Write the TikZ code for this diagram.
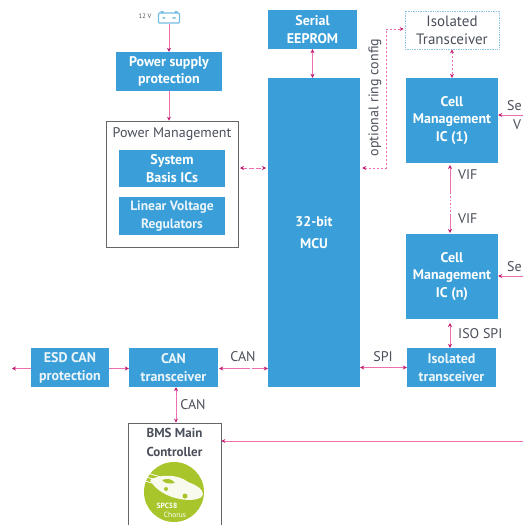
\documentclass[tikz,border=0pt]{standalone}
\usepackage{fontspec}
\setmainfont{PT Sans}
\usetikzlibrary{arrows.meta,calc}
\definecolor{bbox}{HTML}{3A9FD8}
\definecolor{pinkl}{HTML}{EE6FB0}
\definecolor{pinkd}{HTML}{C2186E}
\definecolor{greenl}{HTML}{A8C62C}
\definecolor{gtxt}{HTML}{4A4F5A}
\tikzset{
  x=1pt,y=-1pt,
  bluebox/.style={fill=bbox,text=white,font=\bfseries\fontsize{14}{17.5}\selectfont,align=center,inner sep=0pt,anchor=center},
  ltbox/.style={fill=bbox,text=white!90!bbox,font=\fontsize{14}{18}\selectfont\bfseries,align=center,inner sep=0pt,anchor=center},
  framebox/.style={draw=black!60,line width=0.6pt,fill=white,inner sep=0pt,anchor=center},
  dotbox/.style={draw=bbox!60,densely dotted,line width=0.7pt,fill=white,text=gtxt,font=\fontsize{15}{18}\selectfont,align=center,inner sep=0pt,anchor=center},
  lbl/.style={text=gtxt,font=\fontsize{14}{16}\selectfont,inner sep=0pt},
  conn/.style={draw=pinkl,line width=0.9pt},
  both/.style={conn,{Stealth[length=4pt,width=4pt,color=pinkd]}-{Stealth[length=4pt,width=4pt,color=pinkd]}},
  one/.style={conn,-{Stealth[length=4pt,width=4pt,color=pinkd]}},
  dconn/.style={densely dashed}
}
\begin{document}
\begin{tikzpicture}
\useasboundingbox (0,0) rectangle (523,525);
\clip (0,0) rectangle (523,525);
\fill[white] (0,0) rectangle (523,525);

% blue boxes
\node[bluebox,minimum width=89pt,minimum height=39pt] (eeprom) at (312.5,29.5) {Serial\\EEPROM};
\node[bluebox,minimum width=92pt,minimum height=309pt] (mcu) at (314,232.5) {32-bit\\[4pt]MCU};
\node[bluebox,minimum width=106pt,minimum height=39pt] (psp) at (169,71.5) {Power supply\\protection};
\node[framebox,minimum width=132pt,minimum height=126pt] (pm) at (172,184) {};
\node[lbl] (pmt) at (172,134) {Power Management};
\node[bluebox,minimum width=106pt,minimum height=37pt] (sbc) at (172,168.5) {System\\Basis ICs};
\node[ltbox,font=\fontsize{13.5}{18}\selectfont\bfseries,minimum width=106pt,minimum height=38pt] (lvr) at (172,216) {Linear Voltage\\Regulators};
\node[dotbox,minimum width=94pt,minimum height=38pt] (iso1) at (452,30) {Isolated\\Transceiver};
\node[bluebox,minimum width=92pt,minimum height=85pt] (cm1) at (452,120.5) {Cell\\Management\\IC (1)};
\node[bluebox,minimum width=92pt,minimum height=85pt] (cmn) at (452,276.5) {Cell\\Management\\IC (n)};
\node[ltbox,minimum width=89pt,minimum height=39pt] (iso2) at (451.5,367.5) {Isolated\\transceiver};
\node[ltbox,minimum width=78pt,minimum height=39pt] (esd) at (70,367.5) {ESD CAN\\protection};
\node[ltbox,minimum width=89pt,minimum height=39pt] (can) at (173.5,367.5) {CAN\\transceiver};
\node[framebox,minimum width=93pt,minimum height=112pt] (bms) at (174.5,479) {};
\node[lbl,font=\bfseries\fontsize{13}{19}\selectfont,align=center] (bmst) at (174.5,442) {BMS Main\\Controller};

% battery
\node[draw=bbox!70,line width=1.1pt,rounded corners=1pt,minimum width=21pt,minimum height=10pt,inner sep=0pt,fill=white] (batt) at (169,18) {};
\fill[bbox!70] (160.5,11) rectangle (163.5,13) (174.5,11) rectangle (177.5,13);
\fill[bbox!70] (162.5,17) rectangle (165,18.5) (172.5,17) rectangle (175.5,18.5);
\node[lbl,font=\fontsize{6.5}{7}\selectfont] (v12) at (145,16) {12 V};

% connectors
\coordinate (ringa) at (386,29);
\coordinate (ringb) at (386,168);
\coordinate (se1) at (523,115);
\coordinate (sen) at (523,276);
\coordinate (esdl) at (12,368.5);
\coordinate (bmsr) at (523,441);
\coordinate (pma) at (240,168);
\coordinate (mcua) at (266,168);
\draw[one] (batt.south) -- (psp.north);
\draw[one] (psp.south) -- (psp.south |- pm.north);
\draw[both,dashed,dash pattern=on 5pt off 2pt] (pma) -- (mcua);
\draw[both] (eeprom.south) -- (mcu.north -| eeprom.south);
\draw[conn,dashed,dash pattern=on 2.5pt off 1.5pt,{Stealth[length=4pt,width=4pt,color=pinkd]}-{Stealth[length=4pt,width=4pt,color=pinkd]}] ($(mcu.east |- ringb)+(2,0)$) -- (ringb) -- (ringa) -- ($(iso1.west |- ringa)+(-1,0)$);
\draw[both,dashed,dash pattern=on 2.5pt off 1.5pt] (iso1.south) -- (cm1.north -| iso1.south);
\draw[both,dash pattern=on 27pt off 2pt on 1.5pt off 2pt on 1.5pt off 2pt on 1.5pt off 2pt on 1.5pt off 2pt on 1.5pt off 2pt on 30pt] (450,165) -- (450,233);
\draw[one] (se1) -- (cm1.east |- se1);
\draw[one] (sen) -- (cmn.east |- sen);
\draw[both] (450,323) -- (iso2.north -| 450,323);
\draw[both] (mcu.east |- iso2.west) -- (iso2.west);
\draw[both,dash pattern=on 28pt off 2pt on 30pt] ($(can.east)+(1,1)$) -- ($(mcu.west |- can.east)+(0,1)$);
\draw[one] ($(esd.east)+(0,1)$) -- ($(can.west)+(0,1)$);
\draw[conn,-{Stealth[length=4pt,width=4pt,color=pinkd]}] ($(esd.west)+(0,1)$) -- (esdl);
\draw[both] (can.south -| 176,0) -- (bms.north -| 176,0);
\draw[one] (bmsr) -- (bms.east |- bmsr);

% labels
\node[lbl,rotate=90,font=\fontsize{14}{16}\selectfont] (ring) at (375,97.5) {optional ring config};
\node[lbl,anchor=west] (vif1) at (458,175) {VIF};
\node[lbl,anchor=west] (vif2) at (458,219) {VIF};
\node[lbl,anchor=west] (isospi) at (458,334) {ISO SPI};
\node[lbl] (spi) at (383,357) {SPI};
\node[lbl] (can1) at (243,357) {CAN};
\node[lbl] (can2) at (193,405) {CAN};
\node[lbl,anchor=west] (se) at (507,106) {Se};
\node[lbl,anchor=west] (vv) at (513,125) {V};
\node[lbl,anchor=west] (sen2) at (507,267) {Se};

% logo
\fill[greenl] (174,492) circle (30);
\fill[white!92!greenl] (150,480) .. controls (160,474) and (178,474) .. (188,482) .. controls (196,485) and (203,489) .. (203,494) .. controls (202,500) and (190,501) .. (180,499) .. controls (168,497) and (155,490) .. (150,480);
\draw[white,line width=0.8pt] (147,473) -- (161,477) (146,477) -- (157,480) (145,481) -- (152,483);
\fill[greenl] (162,480) .. controls (168,478) and (172,479) .. (175,483) .. controls (170,484) and (165,484) .. (162,480);
\fill[greenl] (185,496) circle (2.5) (166,489) circle (2);
\node[text=white,font=\bfseries\fontsize{7.5}{8}\selectfont,inner sep=0pt] (spc) at (167,506) {SPC58};
\node[text=white,font=\fontsize{7.5}{8}\selectfont,inner sep=0pt] (cho) at (175,515) {Chorus};
\end{tikzpicture}
\end{document}
